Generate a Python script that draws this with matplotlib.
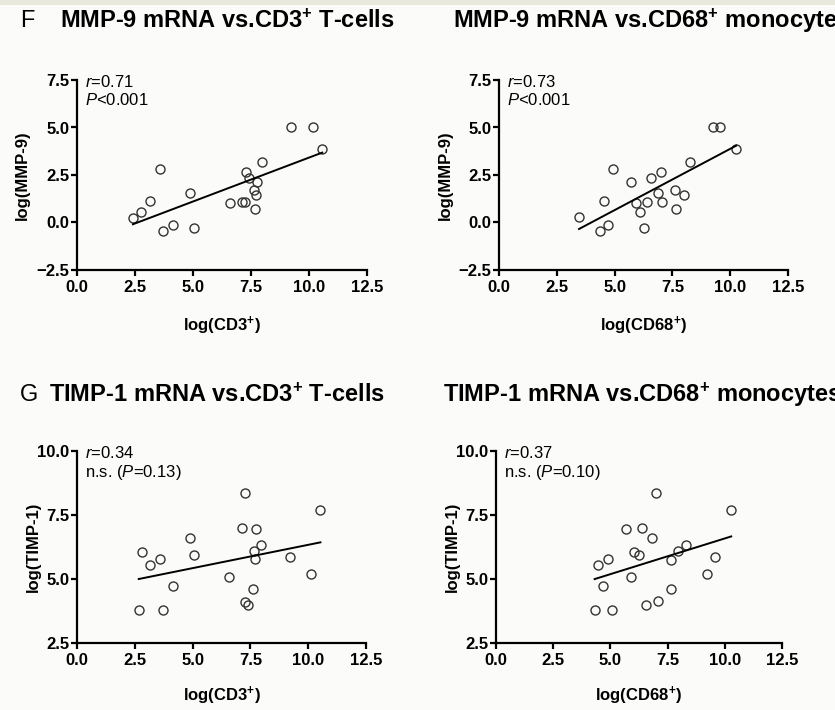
import numpy as np
import matplotlib
matplotlib.use("Agg")
import matplotlib.pyplot as plt
from matplotlib.patches import Rectangle

plt.rcParams['font.family'] = ['Liberation Sans', 'DejaVu Sans']
plt.rcParams['mathtext.fontset'] = 'custom'
plt.rcParams['mathtext.rm'] = 'Liberation Sans'
plt.rcParams['mathtext.it'] = 'Liberation Sans:italic'
plt.rcParams['mathtext.bf'] = 'Liberation Sans:bold'

# ---- data ----
cd3_mmp = [2.41, 2.76, 3.15, 3.56, 3.71, 4.14, 4.89, 5.06, 6.58, 7.11, 7.26,
           7.28, 7.40, 7.61, 7.69, 7.73, 7.77, 7.99, 9.24, 10.17, 10.57]
mmp_cd3 = [0.26, 0.57, 1.12, 2.84, -0.43, -0.12, 1.57, -0.29, 1.02, 1.07, 1.07,
           2.64, 2.33, 1.69, 0.71, 1.43, 2.12, 3.16, 5.00, 5.00, 3.88]

cd68_mmp = [3.46, 4.36, 4.52, 4.73, 4.94, 5.72, 5.93, 6.10, 6.27, 6.40, 6.59,
            6.86, 7.02, 7.06, 7.63, 7.65, 7.99, 8.28, 9.24, 9.56, 10.26]
mmp_cd68 = [0.28, -0.43, 1.12, -0.12, 2.81, 2.12, 1.02, 0.57, -0.29, 1.07, 2.33,
            1.57, 2.64, 1.07, 1.69, 0.71, 1.43, 3.16, 5.00, 5.00, 3.88]

cd3_timp = [2.67, 2.80, 3.16, 3.59, 3.74, 4.15, 4.90, 5.06, 6.58, 7.13, 7.27,
            7.27, 7.39, 7.61, 7.66, 7.69, 7.73, 7.97, 9.20, 10.14, 10.53]
timp_cd3 = [3.79, 6.04, 5.56, 5.77, 3.79, 4.73, 6.60, 5.94, 5.07, 6.99, 8.36,
            4.12, 3.98, 4.61, 6.08, 5.78, 6.95, 6.33, 5.87, 5.19, 7.68]

cd68_timp = [4.31, 4.46, 4.69, 4.90, 5.07, 5.69, 5.89, 6.05, 6.24, 6.37, 6.56,
             6.83, 7.00, 7.06, 7.63, 7.65, 7.95, 8.30, 9.22, 9.56, 10.28]
timp_cd68 = [3.79, 5.56, 4.73, 5.78, 3.79, 6.94, 5.07, 6.04, 5.94, 6.98, 3.98,
             6.60, 8.36, 4.13, 4.61, 5.76, 6.08, 6.33, 5.18, 5.87, 7.70]

titles = ["MMP-9 mRNA vs.CD3$^{\\mathbf{+}}$ T-cells",
          "MMP-9 mRNA vs.CD68$^{\\mathbf{+}}$ monocytes",
          "TIMP-1 mRNA vs.CD3$^{\\mathbf{+}}$ T-cells",
          "TIMP-1 mRNA vs.CD68$^{\\mathbf{+}}$ monocytes"]
xlabels = ["log(CD3$^{\\mathbf{+}}$)", "log(CD68$^{\\mathbf{+}}$)",
           "log(CD3$^{\\mathbf{+}}$)", "log(CD68$^{\\mathbf{+}}$)"]
ylabels = ["log(MMP-9)", "log(MMP-9)", "log(TIMP-1)", "log(TIMP-1)"]
stats = ["$\\mathit{r}$=0.71\n$\\mathit{P}$<0.001",
         "$\\mathit{r}$=0.73\n$\\mathit{P}$<0.001",
         "$\\mathit{r}$=0.34\nn.s. ($\\mathit{P}$=0.13)",
         "$\\mathit{r}$=0.37\nn.s. ($\\mathit{P}$=0.10)"]
xticks = [0.0, 2.5, 5.0, 7.5, 10.0, 12.5]
yticks_mmp = [-2.5, 0.0, 2.5, 5.0, 7.5]
yticks_timp = [2.5, 5.0, 7.5, 10.0]
panel_letters = ["F", "G"]

W, H = 835, 710
fig = plt.figure(figsize=(W / 100, H / 100), dpi=100)
fig.patch.set_facecolor('#fbfbf9')
fig.add_artist(Rectangle((0, 1 - 5 / H), 1, 5 / H, transform=fig.transFigure,
                         facecolor='#e8e8dc', edgecolor='none'))

# axes boxes in pixels: left, right, top, bottom
boxes = [(77, 367, 80, 270), (499, 788, 80, 270),
         (77, 366, 451, 643), (496, 782, 451, 643)]
xs = [cd3_mmp, cd68_mmp, cd3_timp, cd68_timp]
ys = [mmp_cd3, mmp_cd68, timp_cd3, timp_cd68]
yticks_all = [yticks_mmp, yticks_mmp, yticks_timp, yticks_timp]
ylabel_off = [47, 46, 36, 36]
xlabel_off = [45, 45, 42, 42]
title_pos = [(60, 21), (453, 21), (49, 395), (443, 395)]
letter_pos = [(20, 21), (20, 395)]

for i in range(4):
    l, r, t, b = boxes[i]
    ax = fig.add_axes([l / W, 1 - b / H, (r - l) / W, (b - t) / H])
    ax.set_facecolor('none')
    x = np.array(xs[i]); y = np.array(ys[i])
    ax.plot(x, y, 'o', ms=6.5, mfc='none', mec='#333333', mew=1.0, clip_on=False)
    k, c = np.polyfit(x, y, 1)
    xx = np.array([x.min(), x.max()])
    ax.plot(xx, k * xx + c, color='black', lw=1.4)
    yt = yticks_all[i]
    ax.set_xlim(xticks[0], xticks[-1])
    ax.set_ylim(yt[0], yt[-1])
    ax.set_xticks(xticks)
    ax.set_yticks(yt)
    ax.set_xticklabels([f"{v:.1f}" for v in xticks])
    ax.set_yticklabels([f"{v:.1f}".replace('-', '\u2212') for v in yt])
    for s in ['top', 'right']:
        ax.spines[s].set_visible(False)
    for s in ['left', 'bottom']:
        ax.spines[s].set_linewidth(1.6)
    ax.tick_params(length=4, width=1.6, labelsize=12)
    ax.tick_params(axis='x', pad=3.5)
    ax.tick_params(axis='y', pad=1.5)
    for lab in ax.get_xticklabels() + ax.get_yticklabels():
        lab.set_fontweight('bold')
    ax.set_xlabel(xlabels[i], fontsize=12, fontweight='bold')
    ax.xaxis.set_label_coords(0.5, -xlabel_off[i] / (b - t))
    ax.set_ylabel(ylabels[i], fontsize=12, fontweight='bold')
    ax.yaxis.set_label_coords(-ylabel_off[i] / (r - l), 0.5)
    ax.text(8 / (r - l), 1 + 6 / (b - t), stats[i], transform=ax.transAxes,
            ha='left', va='top', fontsize=12, linespacing=1.15)
    tx, ty = title_pos[i]
    fig.text(tx / W, 1 - ty / H, titles[i], fontsize=17, fontweight='bold',
             ha='left', va='center')

for j, letter in enumerate(panel_letters):
    lx, ly = letter_pos[j]
    fig.text(lx / W, 1 - ly / H, letter, fontsize=17, ha='left', va='center')

fig.savefig('out.png', dpi=100, facecolor=fig.get_facecolor())
